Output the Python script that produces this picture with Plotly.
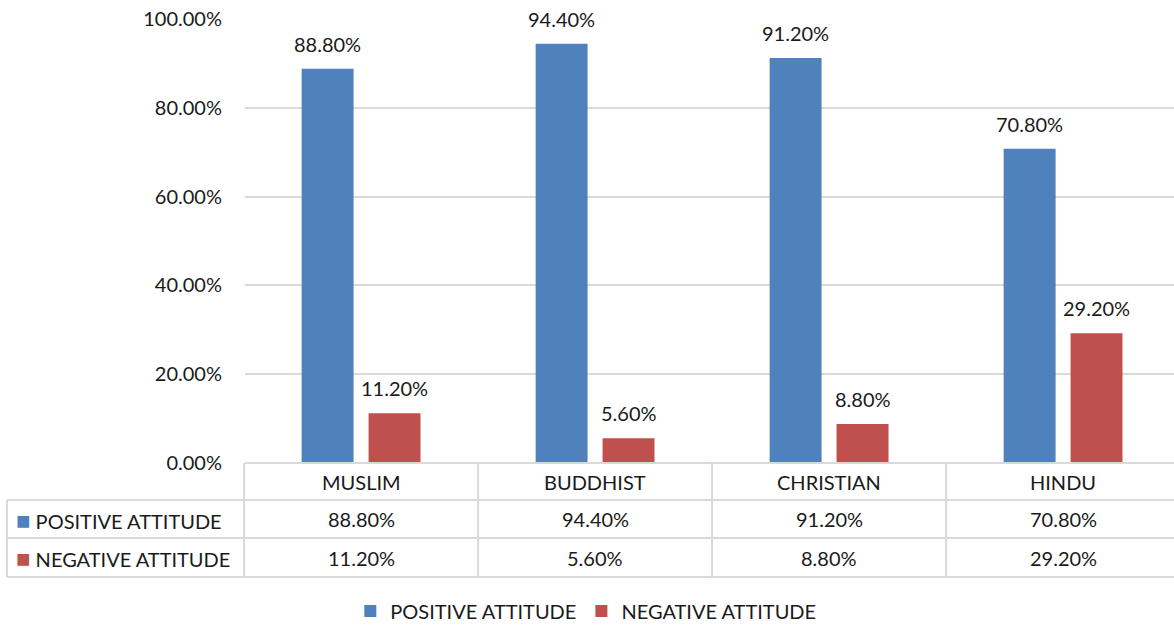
import plotly.graph_objects as go

categories = ["MUSLIM", "BUDDHIST", "CHRISTIAN", "HINDU"]
positive = [0.888, 0.944, 0.912, 0.708]
negative = [0.112, 0.056, 0.088, 0.292]
series_names = ["POSITIVE ATTITUDE", "NEGATIVE ATTITUDE"]
colors = ["#4F81BD", "#C0504D"]
y_ticks = [0, 0.2, 0.4, 0.6, 0.8, 1.0]

W, H = 1174, 626
PLOT_TOP, PLOT_BOTTOM, PLOT_LEFT = 19, 463, 245
FONT = "Lato"
FS = 20
TXT = "#1a1a1a"
GRID = "#d9d9d9"

bargap = 0.428
bargroupgap = 0.224
sub = (1 - bargap) / 2

fig = go.Figure()
for name, vals, col in zip(series_names, [positive, negative], colors):
    fig.add_trace(go.Bar(x=list(range(len(categories))), y=vals, name=name,
                         marker=dict(color=col, line=dict(width=0)),
                         hoverinfo="skip"))

plot_h = PLOT_BOTTOM - PLOT_TOP
plot_w = W - PLOT_LEFT
xmin, xmax = -0.496, 3.474

def py(pix):
    return (PLOT_BOTTOM - pix) / plot_h

def ppx(pix):
    return (pix - PLOT_LEFT) / plot_w

def cat_paper(xv):
    return (xv - xmin) / (xmax - xmin)

annotations = []
shapes = []
# bar value labels
for k, vals in enumerate([positive, negative]):
    off = (k - 0.5) * sub
    for i, v in enumerate(vals):
        annotations.append(dict(x=i + off, y=v, xref="x", yref="y", text=f"{v*100:.2f}%",
                                showarrow=False, xanchor="center", yanchor="middle", yshift=25,
                                font=dict(family=FONT, size=FS, color=TXT)))

n = len(categories)
row_lines = [463, 500, 538, 577]
left_edge = ppx(7)
line_style = dict(color=GRID, width=2)
shapes.append(dict(type="line", xref="paper", yref="paper", x0=0, x1=1.0,
                   y0=py(row_lines[0]), y1=py(row_lines[0]), line=line_style))
for r in row_lines[1:]:
    shapes.append(dict(type="line", xref="paper", yref="paper", x0=left_edge, x1=1.0,
                       y0=py(r), y1=py(r), line=line_style))
shapes.append(dict(type="line", xref="paper", yref="paper", x0=left_edge, x1=left_edge,
                   y0=py(row_lines[1]), y1=py(row_lines[3]), line=line_style))
for i in range(n):
    xv = cat_paper(i - 0.5)
    shapes.append(dict(type="line", xref="paper", yref="paper", x0=xv, x1=xv,
                       y0=py(row_lines[0]), y1=py(row_lines[3]), line=line_style))

# table header
for i, c in enumerate(categories):
    annotations.append(dict(x=cat_paper(i), y=py((row_lines[0] + row_lines[1]) / 2), xref="paper",
                            yref="paper", text=c, showarrow=False, xanchor="center",
                            yanchor="middle", font=dict(family=FONT, size=FS, color=TXT)))
# table rows
for r, (name, vals, col) in enumerate(zip(series_names, [positive, negative], colors)):
    yc = py((row_lines[r + 1] + row_lines[r + 2]) / 2)
    annotations.append(dict(x=ppx(14), y=yc, xref="paper", yref="paper", xanchor="left",
                            yanchor="middle",
                            text=f'<span style="color:{col};font-size:24px">■</span> {name}',
                            showarrow=False, font=dict(family=FONT, size=FS, color=TXT)))
    for i, v in enumerate(vals):
        annotations.append(dict(x=cat_paper(i), y=yc, xref="paper", yref="paper",
                                text=f"{v*100:.2f}%", showarrow=False, xanchor="center",
                                yanchor="middle", font=dict(family=FONT, size=FS, color=TXT)))

fig.update_layout(
    width=W, height=H,
    margin=dict(l=PLOT_LEFT, r=0, t=PLOT_TOP, b=H - PLOT_BOTTOM),
    paper_bgcolor="white", plot_bgcolor="white",
    barmode="group", bargap=bargap, bargroupgap=bargroupgap,
    font=dict(family=FONT, size=FS, color=TXT),
    xaxis=dict(range=[xmin, xmax], showticklabels=False, showgrid=False, zeroline=False,
               showline=False, ticks=""),
    yaxis=dict(range=[0, 1.0], tickvals=y_ticks, tickformat=".2%", showgrid=True,
               gridcolor=GRID, gridwidth=2, zeroline=False, showline=False,
               ticks="", ticklabelstandoff=22, tickfont=dict(family=FONT, size=FS, color=TXT)),
    legend=dict(orientation="h", xref="container", yref="container", x=0.499, y=0.024,
                xanchor="center", yanchor="middle", font=dict(family=FONT, size=FS, color=TXT),
                itemwidth=30, traceorder="normal"),
    annotations=annotations, shapes=shapes,
)

fig.write_html("out.html", config={"displayModeBar": False},
               post_script="document.body.style.margin='0';document.body.style.overflow='hidden';")
